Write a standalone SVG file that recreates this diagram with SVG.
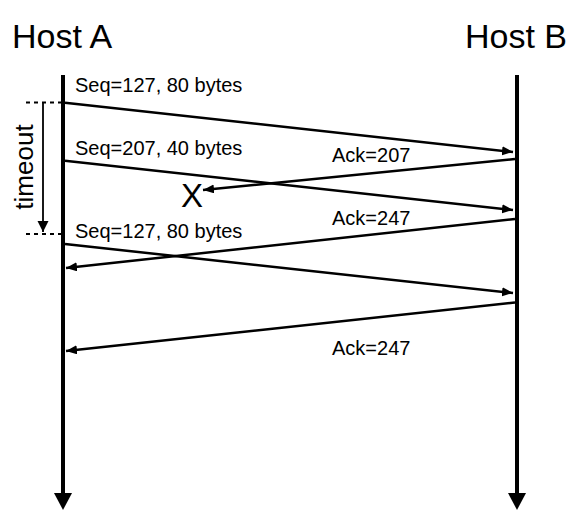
<svg xmlns="http://www.w3.org/2000/svg" width="575" height="521" viewBox="0 0 575 521">
<style>
  text { font-family: "Liberation Sans", Arial, sans-serif; fill: #000; }
  .host { font-size: 34px; }
  .lbl { font-size: 20px; }
  .life { stroke: #000; stroke-width: 4; fill: none; }
  .msg { stroke: #000; stroke-width: 2.5; fill: none; marker-end: url(#ah); }
  .dash { stroke: #000; stroke-width: 2; stroke-dasharray: 4 4; fill: none; }
</style>
<defs>
  <marker id="ah" markerUnits="userSpaceOnUse" markerWidth="12" markerHeight="10" refX="11" refY="4.5" orient="auto">
    <path d="M0,0 L11,4.5 L0,9 z" fill="#000"/>
  </marker>
  <marker id="ahs" markerUnits="userSpaceOnUse" markerWidth="12" markerHeight="12" refX="11" refY="5.5" orient="auto">
    <path d="M0,0 L11,5.5 L0,11 z" fill="#000"/>
  </marker>
</defs>
<rect width="575" height="521" fill="#fff"/>

<g id="hostA">
  <text class="host" x="12" y="48">Host A</text>
  <line class="life" x1="63" y1="75" x2="63" y2="495"/>
  <path d="M54,493 L72,493 L63,510 z" fill="#000"/>
</g>
<g id="hostB">
  <text class="host" x="567" y="48" text-anchor="end">Host B</text>
  <line class="life" x1="517" y1="75" x2="517" y2="495"/>
  <path d="M508,493 L526,493 L517,510 z" fill="#000"/>
</g>

<g id="timeout">
  <line class="dash" x1="26" y1="102.5" x2="61" y2="102.5"/>
  <line class="dash" x1="26" y1="234" x2="61" y2="234"/>
  <line x1="43" y1="103" x2="43" y2="232" stroke="#000" stroke-width="1.8" marker-end="url(#ahs)"/>
  <text transform="translate(33,167) rotate(-90)" text-anchor="middle" font-size="26">timeout</text>
</g>

<g id="loss">
  <text x="192" y="207" font-size="33" text-anchor="middle">X</text>
</g>

<g id="connectors">
  <line class="msg" x1="65" y1="102.7" x2="513" y2="152"/>
  <line class="msg" x1="515" y1="159" x2="203" y2="190"/>
  <line class="msg" x1="65" y1="160.7" x2="513" y2="210"/>
  <line class="msg" x1="515" y1="219" x2="66" y2="268"/>
  <line class="msg" x1="65" y1="244" x2="513" y2="293"/>
  <line class="msg" x1="515" y1="302.5" x2="66" y2="351"/>
</g>

<g id="labels">
  <text class="lbl" x="75" y="92">Seq=127, 80 bytes</text>
  <text class="lbl" x="75" y="155">Seq=207, 40 bytes</text>
  <text class="lbl" x="332" y="162">Ack=207</text>
  <text class="lbl" x="332" y="225">Ack=247</text>
  <text class="lbl" x="75" y="238">Seq=127, 80 bytes</text>
  <text class="lbl" x="332" y="355">Ack=247</text>
</g>
</svg>
